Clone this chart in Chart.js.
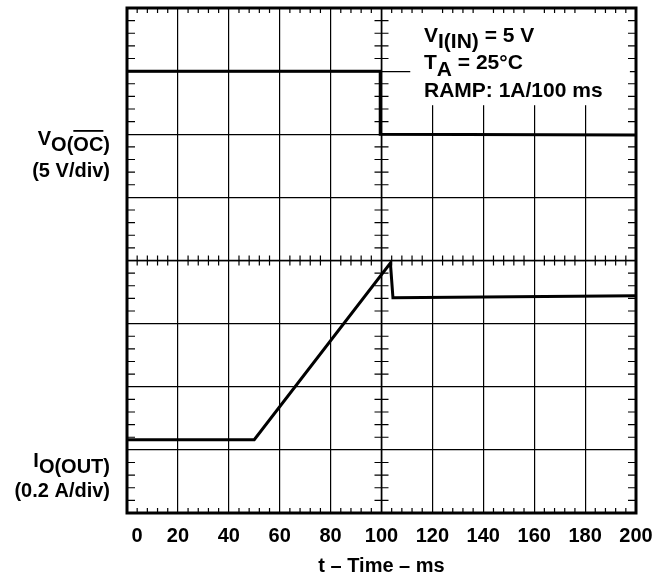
<!DOCTYPE html>
<html>
<head>
<meta charset="utf-8">
<script src="https://cdn.jsdelivr.net/npm/chart.js@4.4.1/dist/chart.umd.min.js"></script>
<style>
  html, body { margin: 0; padding: 0; background: #fff; }
  #wrap { width: 654px; height: 579px; }
</style>
</head>
<body>
<div id="wrap"><canvas id="scope"></canvas></div>
<script>
// time axis, ms
const timeTicks = [0, 20, 40, 60, 80, 100, 120, 140, 160, 180, 200];

// upper trace: V_O(OC), in screen divisions (0 = bottom, 8 = top)
const ocTime = [0, 99.5, 99.5, 200];
const ocLevel = [7, 7, 6, 5.99];

// lower trace: I_O(OUT), in screen divisions
const outTime = [0, 50, 103.5, 104.5, 200];
const outLevel = [1.16, 1.16, 3.96, 3.41, 3.44];

const FONT = '"Liberation Sans", Arial, Helvetica, sans-serif';
const BOLD = size => 'bold ' + size + 'px ' + FONT;

function toPoints(xs, ys) {
  return xs.map((t, i) => ({x: t, y: ys[i]}));
}

// draws a label made of pieces; dy shifts a piece down (subscript), over draws a bar above it
function drawPieces(ctx, pieces, x, baseline, alignRight, size) {
  ctx.font = BOLD(size || 20);
  const widths = pieces.map(p => ctx.measureText(p.t).width);
  let cx = alignRight ? x - widths.reduce((a, b) => a + b, 0) : x;
  ctx.textAlign = 'left';
  ctx.textBaseline = 'alphabetic';
  pieces.forEach((p, i) => {
    const by = baseline + (p.dy || 0);
    ctx.fillText(p.t, cx, by);
    if (p.over) {
      const lead = ctx.measureText(p.over[0]).width;
      const w = ctx.measureText(p.over[1]).width;
      ctx.fillRect(cx + lead, by - 21, w, 1.8);
    }
    cx += widths[i];
  });
}

const scopeDecor = {
  id: 'scopeDecor',
  beforeDatasetsDraw(chart) {
    const {ctx, chartArea: a, scales: {x, y}} = chart;
    ctx.save();

    // white box behind the test conditions
    const bx0 = x.getPixelForValue(111.3), bx1 = x.getPixelForValue(197.6);
    ctx.fillStyle = '#fff';
    ctx.fillRect(bx0, a.top, bx1 - bx0, y.getPixelForValue(6.46) - a.top);

    // minor ticks on border and centre lines
    ctx.strokeStyle = '#000';
    ctx.lineWidth = 1.2;
    ctx.beginPath();
    const cy = y.getPixelForValue(4), cx = x.getPixelForValue(100);
    for (let t = 0; t <= 200; t += 4) {
      if (t % 20 === 0) continue;
      const px = x.getPixelForValue(t);
      ctx.moveTo(px, a.top); ctx.lineTo(px, a.top + 5);
      ctx.moveTo(px, a.bottom); ctx.lineTo(px, a.bottom - 5);
      ctx.moveTo(px, cy - 5); ctx.lineTo(px, cy + 5);
    }
    for (let k = 0; k <= 40; k++) {
      if (k % 5 === 0) continue;
      const py = y.getPixelForValue(k / 5);
      ctx.moveTo(a.left, py); ctx.lineTo(a.left + 8, py);
      ctx.moveTo(a.right, py); ctx.lineTo(a.right - 8, py);
      ctx.moveTo(cx - 7, py); ctx.lineTo(cx + 7, py);
    }
    ctx.stroke();

    ctx.lineWidth = 1.6;
    ctx.beginPath();
    ctx.moveTo(a.left, cy); ctx.lineTo(a.right, cy);
    ctx.moveTo(cx, a.top); ctx.lineTo(cx, a.bottom);
    ctx.stroke();

    ctx.lineWidth = 3;
    ctx.strokeRect(a.left, a.top, a.right - a.left, a.bottom - a.top);
    ctx.restore();
  },
  afterDraw(chart) {
    const ctx = chart.ctx;
    ctx.save();
    ctx.fillStyle = '#000';
    // channel labels
    drawPieces(ctx, [{t: 'V'}, {t: 'O(OC)', dy: 6, over: ['O(', 'OC']}], 110, 145, true);
    drawPieces(ctx, [{t: '(5 V/div)'}], 110, 177, true);
    drawPieces(ctx, [{t: 'I'}, {t: 'O(OUT)', dy: 6}], 110, 467, true);
    drawPieces(ctx, [{t: '(0.2 A/div)'}], 110, 497, true);
    // test conditions
    drawPieces(ctx, [{t: 'V'}, {t: 'I(IN)', dy: 6}, {t: ' = 5 V'}], 424, 42, false, 21);
    drawPieces(ctx, [{t: 'T'}, {t: 'A', dy: 7}, {t: ' = 25\u00B0C'}], 424, 69, false, 21);
    drawPieces(ctx, [{t: 'RAMP: 1A/100 ms'}], 424, 97, false, 21);
    ctx.restore();
  }
};

const traceStyle = {
  borderColor: '#000',
  borderWidth: 3,
  pointRadius: 0,
  tension: 0,
  fill: false
};

new Chart(document.getElementById('scope'), {
  type: 'line',
  data: {
    datasets: [
      Object.assign({label: 'VO(OC)', data: toPoints(ocTime, ocLevel)}, traceStyle),
      Object.assign({label: 'IO(OUT)', data: toPoints(outTime, outLevel)}, traceStyle)
    ]
  },
  options: {
    responsive: true,
    maintainAspectRatio: false,
    animation: false,
    layout: {padding: {left: 127, right: 18, top: 8, bottom: 0}},
    plugins: {legend: {display: false}, tooltip: {enabled: false}},
    scales: {
      x: {
        type: 'linear',
        min: 0,
        max: 200,
        afterBuildTicks: scale => { scale.ticks = timeTicks.map(v => ({value: v})); },
        // let the last label hang past the frame instead of shrinking the plot
        afterFit: scale => { scale.paddingRight = 0; scale.paddingLeft = 0; },
        grid: {color: '#000', lineWidth: 1.2, drawTicks: false},
        border: {display: false},
        ticks: {
          color: '#000',
          font: {family: FONT, size: 20, weight: 'bold'},
          padding: 11,
          autoSkip: false,
          maxRotation: 0,
          // the first label sits just inside the frame
          callback: v => v === 0 ? '\u2002\u20020' : String(v)
        },
        title: {display: true, text: 't \u2013 Time \u2013 ms', color: '#000',
                font: {family: FONT, size: 20, weight: 'bold'}, padding: {top: -5, bottom: 1}}
      },
      y: {
        type: 'linear',
        min: 0,
        max: 8,
        ticks: {display: false, stepSize: 1},
        grid: {color: '#000', lineWidth: 1.2, drawTicks: false},
        border: {display: false}
      }
    }
  },
  plugins: [scopeDecor]
});
</script>
</body>
</html>
